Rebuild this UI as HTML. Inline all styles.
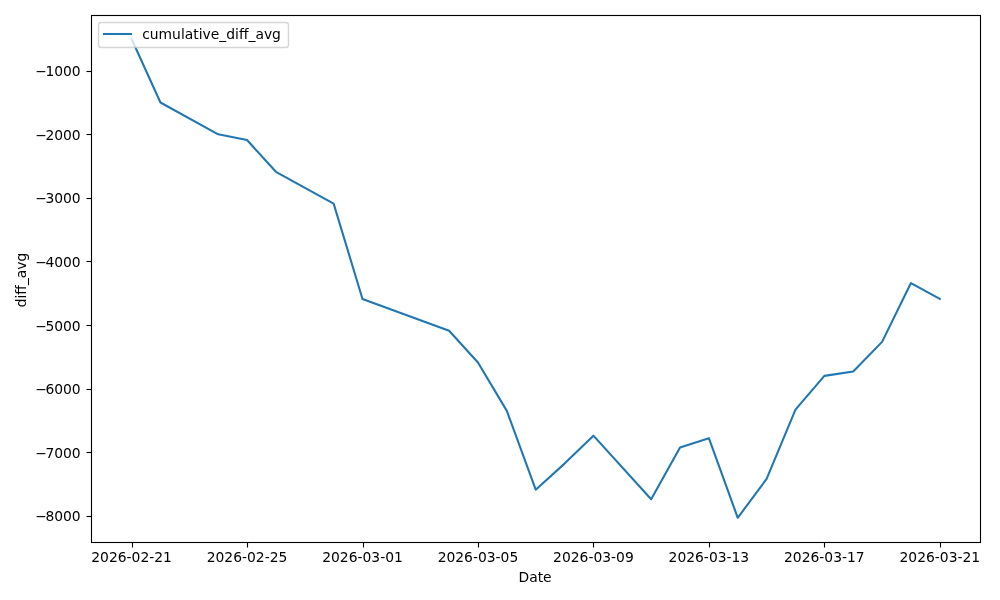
<!DOCTYPE html>
<html lang="en"><head><meta charset="utf-8"><title>cumulative_diff_avg</title>
<style>html,body{margin:0;padding:0;background:#fff;overflow:hidden}svg{display:block}text{font-family:'DejaVu Sans','Liberation Sans',sans-serif;font-size:13.8889px;fill:#000;}</style></head><body>
<svg width="1000" height="600" viewBox="0 0 1000 600">
<rect width="1000" height="600" fill="#fff"/>
<defs><clipPath id="ax"><rect x="91.168" y="15.000" width="889.059" height="526.722"/></clipPath></defs>
<g stroke="#000" stroke-width="1.1111" fill="none"><path d="M132.5 542.5V547.5"/><path d="M247.5 542.5V547.5"/><path d="M363.5 542.5V547.5"/><path d="M478.5 542.5V547.5"/><path d="M593.5 542.5V547.5"/><path d="M709.5 542.5V547.5"/><path d="M824.5 542.5V547.5"/><path d="M940.5 542.5V547.5"/><path d="M86.5 71.5H91.5"/><path d="M86.5 134.5H91.5"/><path d="M86.5 198.5H91.5"/><path d="M86.5 261.5H91.5"/><path d="M86.5 325.5H91.5"/><path d="M86.5 389.5H91.5"/><path d="M86.5 452.5H91.5"/><path d="M86.5 516.5H91.5"/></g>
<path d="M131.580 38.942 L160.446 102.516 L218.177 134.303 L247.042 140.024 L275.908 171.811 L333.639 203.598 L362.505 298.959 L449.101 330.746 L477.967 362.533 L506.832 410.849 L535.698 489.681 L564.563 463.615 L593.429 435.643 L651.160 499.217 L680.026 447.404 L708.891 438.186 L737.757 517.780 L766.622 478.873 L795.488 409.578 L824.353 375.883 L853.219 371.433 L882.084 341.871 L910.950 283.066 L939.816 298.959" clip-path="url(#ax)" fill="none" stroke="#1f77b4" stroke-width="2.0833" stroke-linejoin="round" stroke-linecap="square"/>
<rect x="91.5" y="15.5" width="889" height="527" fill="none" stroke="#000" stroke-width="1.1111" stroke-linejoin="miter"/>
<text x="131.580" y="561.623" text-anchor="middle">2026-02-21</text>
<text x="247.042" y="561.623" text-anchor="middle">2026-02-25</text>
<text x="362.505" y="561.623" text-anchor="middle">2026-03-01</text>
<text x="477.967" y="561.623" text-anchor="middle">2026-03-05</text>
<text x="593.429" y="561.623" text-anchor="middle">2026-03-09</text>
<text x="708.891" y="561.623" text-anchor="middle">2026-03-13</text>
<text x="824.353" y="561.623" text-anchor="middle">2026-03-17</text>
<text x="939.816" y="561.623" text-anchor="middle">2026-03-21</text>
<text x="535.073" y="581.620" text-anchor="middle">Date</text>
<text x="80.696" y="76.256" text-anchor="end">−<tspan dx="-1.40">1000</tspan></text>
<text x="80.696" y="139.829" text-anchor="end">−<tspan dx="-1.40">2000</tspan></text>
<text x="80.696" y="203.403" text-anchor="end">−<tspan dx="-1.40">3000</tspan></text>
<text x="80.696" y="266.977" text-anchor="end">−<tspan dx="-1.40">4000</tspan></text>
<text x="80.696" y="330.551" text-anchor="end">−<tspan dx="-1.40">5000</tspan></text>
<text x="80.696" y="394.125" text-anchor="end">−<tspan dx="-1.40">6000</tspan></text>
<text x="80.696" y="457.699" text-anchor="end">−<tspan dx="-1.40">7000</tspan></text>
<text x="80.696" y="521.273" text-anchor="end">−<tspan dx="-1.40">8000</tspan></text>
<text x="25.505" y="279.986" text-anchor="middle" transform="rotate(-90 25.505 279.986)">diff_avg</text>
<rect x="98.5" y="22.5" width="190" height="25" rx="2.78" ry="2.78" fill="#fff" stroke="#ccc" stroke-width="1.3889" opacity="0.8"/>
<path d="M104 34H131" fill="none" stroke="#1f77b4" stroke-width="2.0833" stroke-linecap="square"/>
<text x="142.182" y="38.553">cumulative_diff_avg</text>
</svg></body></html>
